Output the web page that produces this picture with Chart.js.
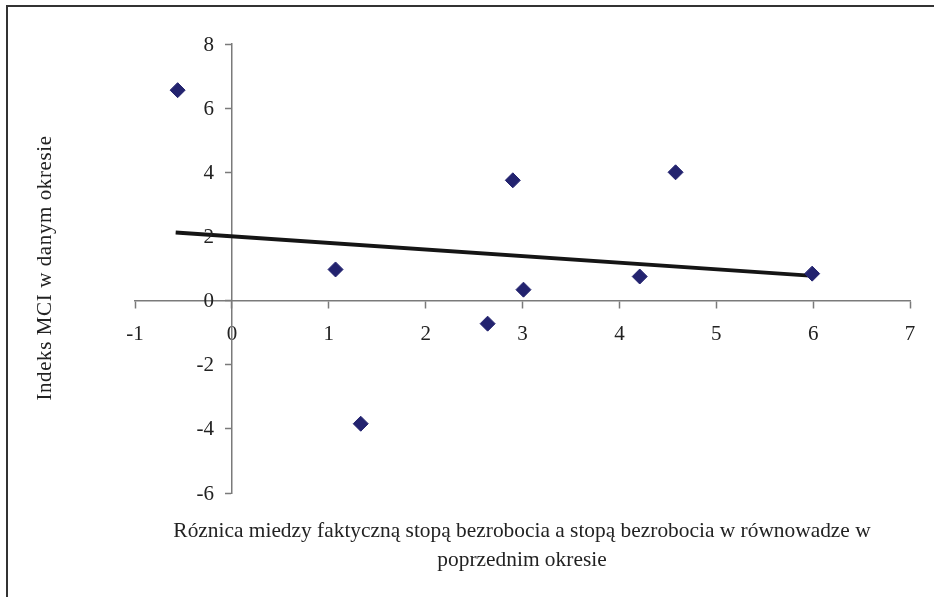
<!DOCTYPE html>
<html>
<head>
<meta charset="utf-8">
<script src="https://cdn.jsdelivr.net/npm/chart.js@4.4.1/dist/chart.umd.min.js"></script>
<style>
  html, body { margin: 0; padding: 0; background: #ffffff; }
  #wrap { width: 934px; height: 597px; }
</style>
</head>
<body>
<div id="wrap"><canvas id="myChart" width="934" height="597"></canvas></div>
<script>
// data
const pointsX = [-0.56, 1.07, 1.33, 2.64, 2.9, 3.01, 4.21, 4.58, 5.99];
const pointsY = [6.56, 0.97, -3.84, -0.72, 3.75, 0.34, 0.75, 4.0, 0.84];
const trendX = [-0.58, 6.0];
const trendY = [2.12, 0.77];
const xTicks = [-1, 0, 1, 2, 3, 4, 5, 6, 7];
const yTicks = [-6, -4, -2, 0, 2, 4, 6, 8];

const xTitle = [
  "Róznica miedzy faktyczną stopą bezrobocia a stopą bezrobocia w równowadze w",
  "poprzednim okresie",
];
const yTitle = "Indeks MCI w danym okresie";

const textColor = "#222222";
const axisColor = "#7a7a7a";
const fontFamily = "'Liberation Serif', 'Times New Roman', serif";

// frame, y tick labels (left of the crossing axis) and axis titles
const decorPlugin = {
  id: "decor",
  afterDraw(chart) {
    const c = chart.ctx;
    const xs = chart.scales.x;
    const ys = chart.scales.y;
    c.save();
    c.strokeStyle = "#333333";
    c.lineWidth = 2;
    c.beginPath();
    c.moveTo(7, 597);
    c.lineTo(7, 6);
    c.lineTo(934, 6);
    c.stroke();

    c.fillStyle = textColor;
    c.font = "21px " + fontFamily;
    c.textAlign = "right";
    c.textBaseline = "middle";
    const axisX = xs.getPixelForValue(0);
    yTicks.forEach((v) => {
      c.fillText(String(v), axisX - 18, ys.getPixelForValue(v) + 1);
    });

    c.textAlign = "center";
    c.font = "21.4px " + fontFamily;
    c.fillText(xTitle[0], 522, 531);
    c.fillText(xTitle[1], 522, 560);

    c.font = "21px " + fontFamily;
    c.translate(45, 268);
    c.rotate(-Math.PI / 2);
    c.letterSpacing = "0.6px";
    c.fillText(yTitle, 0, 0);
    c.restore();
  },
};

function initChart() {
  const ctx = document.getElementById("myChart");

  new Chart(ctx, {
    data: {
      datasets: [
        {
          type: "scatter",
          label: "MCI",
          data: pointsX.map((x, i) => ({ x: x, y: pointsY[i] })),
          pointStyle: "rectRot",
          pointRadius: 7.5,
          backgroundColor: "#23236f",
          borderColor: "#23236f",
          borderWidth: 1,
          order: 1,
        },
        {
          type: "line",
          label: "trend",
          data: trendX.map((x, i) => ({ x: x, y: trendY[i] })),
          borderColor: "#151515",
          borderWidth: 4,
          pointRadius: 0,
          fill: false,
          order: 2,
        },
      ],
    },
    options: {
      responsive: false,
      animation: false,
      layout: {
        padding: { left: 135, right: 24, top: 44, bottom: 104 },
      },
      scales: {
        x: {
          type: "linear",
          min: -1,
          max: 7,
          position: { y: 0 },
          afterBuildTicks: (axis) => {
            axis.ticks = xTicks.map((v) => ({ value: v }));
          },
          grid: {
            drawOnChartArea: false,
            drawTicks: true,
            tickLength: 7,
            tickColor: axisColor,
            tickWidth: 1.5,
          },
          border: { display: true, color: axisColor, width: 1.5 },
          ticks: {
            color: textColor,
            padding: 14,
            font: { family: fontFamily, size: 21 },
          },
        },
        y: {
          type: "linear",
          min: -6,
          max: 8,
          position: { x: 0 },
          afterBuildTicks: (axis) => {
            axis.ticks = yTicks.map((v) => ({ value: v }));
          },
          grid: {
            drawOnChartArea: false,
            drawTicks: true,
            tickLength: 6,
            tickColor: axisColor,
            tickWidth: 1.5,
          },
          border: { display: true, color: axisColor, width: 1.5 },
          ticks: { display: false },
        },
      },
      plugins: {
        legend: { display: false },
        tooltip: { enabled: false },
      },
    },
    plugins: [decorPlugin],
  });
}

initChart();
</script>
</body>
</html>
